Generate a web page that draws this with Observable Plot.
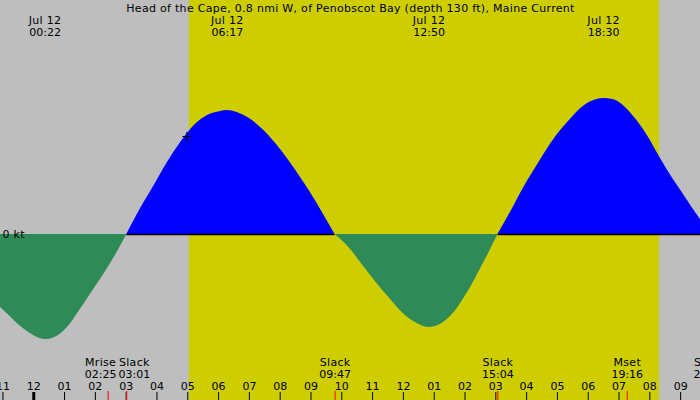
<!DOCTYPE html>
<html>
<head>
<meta charset="utf-8">
<script src="https://cdn.jsdelivr.net/npm/d3@7"></script>
<script src="https://cdn.jsdelivr.net/npm/@observablehq/plot@0.6"></script>
<style>
  html, body { margin: 0; padding: 0; background: #bebebe; }
  svg { display: block; }
</style>
</head>
<body>
<div id="chart"></div>
<script>
// ---- data (hours after Jul 12 00:00, current in knots) ----
const title = "Head of the Cape, 0.8 nmi W, of Penobscot Bay (depth 130 ft), Maine Current";
const dateLabel = "Jul 12";
const hours = [-1.08,-0.8,-0.54,-0.25,0.0,0.2,0.4,0.6,0.8,1.0,1.2,1.4,1.62,1.9,2.27,2.65,3.02,
  3.47,3.91,4.34,4.77,5.21,5.64,6.07,6.28,6.6,7.0,7.47,8.01,8.66,9.2,9.5,9.78,
  10.23,10.66,11.09,11.53,11.96,12.39,12.83,13.2,13.42,13.7,13.96,14.18,14.51,14.83,15.07,
  15.51,15.91,16.3,16.56,17.0,17.42,17.8,18.18,18.5,18.8,19.1,19.5,19.9,20.29,20.7,21.05,21.35,21.64,21.93];
const knots = [-0.73,-0.81,-0.89,-0.96,-1.01,-1.04,-1.05,-1.04,-1.01,-0.96,-0.89,-0.80,-0.70,-0.57,-0.40,-0.21,0,
  0.26,0.49,0.72,0.92,1.09,1.19,1.23,1.24,1.22,1.16,1.04,0.85,0.57,0.31,0.15,0,
  -0.13,-0.30,-0.47,-0.63,-0.78,-0.88,-0.93,-0.90,-0.85,-0.76,-0.64,-0.53,-0.34,-0.15,0,
  0.24,0.47,0.67,0.80,1.00,1.15,1.27,1.34,1.36,1.35,1.30,1.17,1.00,0.79,0.58,0.42,0.28,0.15,0];
const extremaTimes = ["00:22","06:17","12:50","18:30"];
const eventNames = ["Mrise","Slack","Slack","Slack","Mset","Slack"];
const eventTimes = ["02:25","03:01","09:47","15:04","19:16","21:56"];
const sunTimes = ["05:03","20:19"]; // sunrise, sunset
const hourTicks = [-1,0,1,2,3,4,5,6,7,8,9,10,11,12,13,14,15,16,17,18,19,20,21];
const hourLabels = ["11","12","01","02","03","04","05","06","07","08","09","10","11","12","01","02","03","04","05","06","07","08","09"];
const markerTime = 4.97, markerKnots = 0.98;
const zeroLabel = "0 kt";

// ---- derived ----
const toH = s => { const [a,b] = s.split(":").map(Number); return a + b/60; };
const rows = hours.map((h,i) => ({h, v: knots[i]}));
const segs = [];
let cur = [];
rows.forEach(r => {
  cur.push(r);
  if (r.v === 0 && cur.length > 1) { segs.push(cur); cur = [r]; }
});
if (cur.length > 1) segs.push(cur);
const floodRows = [], ebbRows = [], floodSpans = [];
segs.forEach((s, k) => {
  const flood = d3.max(s, d => d.v) > 0;
  s.forEach(d => (flood ? floodRows : ebbRows).push({...d, seg: k}));
  if (flood) floodSpans.push({start: s[0].h, end: s[s.length-1].h});
});
const extrema = extremaTimes.map(t => ({h: toH(t), t}));
const x0 = -1.08, x1 = 21.645, W = 700;
const pxPerH = W / (x1 - x0);
const events = eventNames.map((n,i) => ({name: n, t: eventTimes[i], h: toH(eventTimes[i])}));
events.forEach(e => e.lh = e.h);
const minGap = 33.7 / pxPerH;
for (let i = 1; i < events.length; i++) {
  const a = events[i-1], b = events[i];
  const d = b.lh - a.lh;
  if (d < minGap) { const s = (minGap - d)/2; a.lh -= s; b.lh += s; }
}
const sun = [{rise: toH(sunTimes[0]), set: toH(sunTimes[1])}];
const ticks = hourTicks.map((h,i) => ({h, label: hourLabels[i], mid: h % 24 === 0}));

const plusSymbol = { draw(ctx) { ctx.moveTo(-4.5,0); ctx.lineTo(4.5,0); ctx.moveTo(0,-4.5); ctx.lineTo(0,4.5); } };
const FS = 11;

const chart = Plot.plot({
  width: 700, height: 400, margin: 0,
  x: {domain: [x0, x1], axis: null},
  y: {domain: [-1.66, 2.34], axis: null},
  style: {background: "#bebebe", fontFamily: "'DejaVu Sans', sans-serif", color: "black"},
  marks: [
    Plot.rect(sun, {x1: "rise", x2: "set", fill: "#cdcd00"}),
    Plot.areaY(ebbRows, {x: "h", y: "v", z: "seg", fill: "#2e8b57", curve: "monotone-x", clip: true}),
    Plot.areaY(floodRows, {x: "h", y: "v", z: "seg", fill: "#0000ff", curve: "monotone-x", clip: true}),
    Plot.ruleY(floodSpans, {y: () => 0, x1: "start", x2: "end", stroke: "black", strokeWidth: 1.5, clip: true}),
    Plot.dot([{h: markerTime, v: markerKnots}], {x: "h", y: "v", symbol: plusSymbol, stroke: "black", fill: "none", strokeWidth: 1}),
    Plot.text([0], {y: d => d, text: () => zeroLabel, frameAnchor: "left", textAnchor: "start", dx: 2, fontSize: FS}),
    Plot.text([title], {frameAnchor: "top", text: d => d, dy: 7.5, lineAnchor: "middle", fontSize: FS}),
    Plot.text(extrema, {x: "h", text: () => dateLabel, frameAnchor: "top", dy: 20, lineAnchor: "middle", fontSize: FS}),
    Plot.text(extrema, {x: "h", text: "t", frameAnchor: "top", dy: 31.5, lineAnchor: "middle", fontSize: FS}),
    Plot.ruleX(ticks.filter(d => !d.mid), {x: "h", insetTop: 392, stroke: "black", strokeWidth: 1}),
    Plot.ruleX(ticks.filter(d => d.mid), {x: "h", insetTop: 392, stroke: "black", strokeWidth: 3}),
    Plot.ruleX(events, {x: "h", insetTop: 391, stroke: "red", strokeWidth: 1}),
    Plot.text(ticks, {x: "h", text: "label", frameAnchor: "bottom", dy: -14, lineAnchor: "middle", fontSize: FS}),
    Plot.text(events, {x: "lh", text: "name", frameAnchor: "bottom", dy: -38, lineAnchor: "middle", fontSize: FS}),
    Plot.text(events, {x: "lh", text: "t", frameAnchor: "bottom", dy: -26.5, lineAnchor: "middle", fontSize: FS})
  ]
});
// emulate the wider hinted glyph advances of the reference for letter text
d3.select(chart).selectAll("text")
  .filter(function() { return /[A-Za-z]/.test(this.textContent); })
  .attr("letter-spacing", "0.3px");
document.getElementById("chart").appendChild(chart);
</script>
</body>
</html>
